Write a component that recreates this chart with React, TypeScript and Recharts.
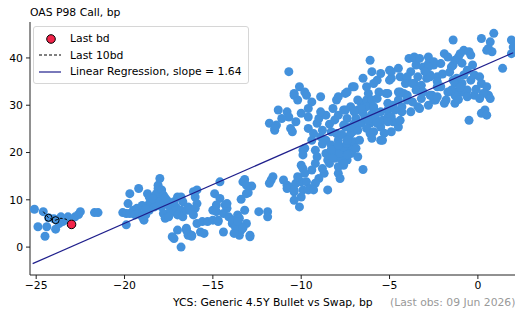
import { ScatterChart, Scatter, XAxis, YAxis } from "recharts"

// history: [YCS spread, OAS P98 call], bp
const history: [number, number][] = [
  [-25.1, 8.0], [-24.9, 4.3], [-24.6, 7.5], [-24.4, 4.3], [-24.5, 2.3], [-24.3, 6.2], [-23.9, 3.8],
  [-23.8, 5.6], [-23.6, 6.4], [-23.5, 5.4], [-23.3, 5.9], [-23.2, 6.4], [-22.8, 6.4], [-22.6, 6.9],
  [-22.5, 7.5], [-21.7, 7.3], [-21.5, 7.3], [-23.7, 5.0], [-24.0, 6.0],
  [-20.1, 7.3], [-19.9, 7.1], [-19.9, 4.7], [-19.7, 11.3], [-19.2, 12.4], [-19.8, 9.2], [-19.7, 7.1],
  [-19.5, 7.8], [-19.3, 8.2], [-19.4, 6.8], [-19.2, 7.1], [-18.9, 5.7], [-19.0, 6.4], [-18.7, 11.3],
  [-18.6, 10.6], [-18.6, 9.2], [-18.4, 9.6], [-18.3, 8.5], [-18.2, 11.3], [-18.1, 12.4], [-18.1, 13.1],
  [-18.0, 14.5], [-18.1, 10.6], [-17.9, 12.1], [-17.8, 11.0], [-17.9, 8.5], [-17.8, 7.1], [-17.7, 6.1],
  [-17.6, 9.9], [-17.5, 8.9], [-17.4, 7.8], [-17.2, 7.5], [-17.1, 8.5], [-17.2, 9.6], [-17.0, 10.6],
  [-16.8, 10.6], [-16.7, 9.6], [-16.8, 7.8], [-17.0, 6.8], [-16.7, 6.4], [-16.5, 7.8], [-16.4, 8.5],
  [-16.3, 7.8], [-16.1, 11.7], [-15.9, 12.1], [-16.0, 10.6], [-15.9, 9.2], [-16.0, 8.2], [-16.1, 6.8],
  [-15.9, 5.0], [-15.6, 5.4], [-15.3, 5.4], [-15.0, 5.7], [-14.9, 11.3], [-15.0, 7.8], [-17.0, 3.6],
  [-17.2, 1.8], [-16.5, 3.6], [-16.4, 2.9], [-16.2, 2.5], [-15.7, 3.2], [-15.5, 2.9], [-16.8, 0.0],
  [-18.6, 7.8], [-18.8, 6.8], [-17.5, 6.4], [-17.3, 2.2], [-16.5, 4.0], [-16.4, 2.5], [-16.2, 2.3],
  [-18.4, 10.2], [-18.0, 9.6], [-17.7, 10.4], [-19.0, 8.8], [-18.8, 8.0],
  [-14.6, 13.8], [-13.3, 13.8], [-13.2, 14.3], [-12.8, 12.9], [-13.0, 11.5], [-13.4, 10.1], [-14.6, 10.3],
  [-14.8, 8.9], [-14.3, 8.9], [-14.2, 8.2], [-14.8, 7.5], [-14.4, 7.1], [-14.1, 6.4], [-14.7, 5.4],
  [-13.9, 5.0], [-13.6, 6.8], [-13.5, 6.1], [-13.2, 7.8], [-13.6, 5.0], [-13.1, 5.0], [-13.7, 4.0],
  [-13.4, 3.6], [-12.9, 2.5], [-13.5, 2.5], [-14.4, 3.2], [-12.4, 7.5], [-11.9, 7.5], [-11.9, 6.4],
  [-14.2, 9.2], [-13.9, 5.7], [-13.7, 4.3], [-13.6, 5.4], [-13.8, 2.9], [-13.3, 4.0], [-12.9, 2.2],
  [-13.1, 11.3], [-13.1, 13.1], [-14.7, 5.7],
  [-11.7, 14.2], [-11.8, 13.5], [-11.6, 14.9], [-11.0, 14.2], [-10.8, 13.1], [-10.5, 12.7], [-10.4, 11.7],
  [-10.3, 13.5], [-10.0, 13.8], [-9.9, 12.1], [-10.1, 8.5], [-10.0, 17.3], [-9.9, 16.6], [-10.8, 12.4],
  [-10.4, 9.9], [-10.0, 10.6], [-10.2, 14.9], [-9.7, 13.8], [-9.5, 12.4], [-9.6, 12.1], [-10.4, 12.1],
  [-9.9, 20.5], [-10.5, 24.4], [-11.5, 24.7], [-10.7, 37.1], [-10.1, 33.9], [-9.8, 32.8], [-10.4, 32.1],
  [-10.2, 31.1], [-9.7, 32.1], [-9.4, 30.7], [-8.9, 31.8], [-10.0, 28.3], [-9.6, 29.3], [-9.6, 27.5],
  [-11.3, 29.0], [-10.8, 28.6], [-10.7, 27.5], [-11.1, 27.2], [-10.3, 26.5], [-10.6, 25.1], [-11.8, 26.2],
  [-11.4, 25.8], [-11.5, 25.1], [-9.6, 25.1], [-9.1, 26.2], [-9.0, 27.2], [-8.6, 27.9], [-8.2, 29.3],
  [-8.0, 31.1], [-7.9, 31.8], [-7.5, 32.5], [-7.4, 32.8], [-7.6, 29.0], [-7.9, 27.9], [-7.2, 29.7],
  [-7.1, 33.9], [-8.8, 24.7], [-8.9, 23.3], [-8.6, 22.6], [-8.3, 24.4], [-8.0, 24.0], [-7.9, 22.6],
  [-7.5, 25.4], [-7.3, 23.3], [-7.1, 24.4], [-9.4, 22.6], [-9.2, 20.5], [-9.8, 20.9], [-9.9, 19.5],
  [-9.1, 19.1], [-8.6, 19.8], [-8.5, 18.4], [-8.1, 18.8], [-7.9, 20.5], [-7.5, 20.1], [-7.7, 18.4],
  [-7.2, 21.2], [-8.3, 21.6], [-10.4, 32.5],
  [-7.9, 15.6], [-7.8, 14.5], [-6.5, 16.4], [-9.4, 16.3], [-9.2, 17.7], [-8.5, 12.1], [-8.7, 15.6],
  [-8.8, 16.6], [-9.0, 14.5], [-9.8, 15.6], [-9.2, 13.5], [-9.3, 12.1], [-8.4, 17.7], [-8.2, 19.1],
  [-8.1, 20.5], [-7.8, 19.8], [-7.6, 21.2], [-7.4, 21.9], [-7.1, 20.5], [-7.0, 22.3], [-7.2, 24.0],
  [-6.8, 24.7], [-6.6, 26.2], [-6.4, 27.5], [-6.9, 27.2], [-6.8, 29.0], [-6.6, 30.4], [-6.3, 31.1],
  [-6.2, 32.5], [-6.0, 31.1], [-6.3, 29.7], [-5.9, 29.3], [-5.8, 27.5], [-6.1, 26.2], [-5.9, 24.4],
  [-5.5, 25.4], [-5.4, 26.8], [-5.1, 27.5], [-4.8, 26.5], [-5.1, 29.0], [-4.8, 30.0], [-4.5, 31.1],
  [-4.5, 32.8], [-5.1, 32.5], [-5.6, 32.8], [-5.9, 34.6], [-5.7, 35.3], [-6.1, 39.5], [-6.0, 37.1],
  [-5.5, 36.7], [-4.9, 35.7], [-5.0, 37.4], [-4.5, 37.8], [-4.4, 36.0], [-4.0, 35.3], [-3.9, 39.9],
  [-3.6, 39.9], [-3.5, 38.5], [-3.8, 37.1], [-3.6, 34.6], [-4.2, 32.5], [-4.0, 31.1], [-4.3, 28.6],
  [-3.8, 28.6], [-3.4, 29.7], [-4.5, 25.4], [-4.9, 24.4], [-5.5, 22.6], [-7.2, 19.8], [-6.8, 19.1],
  [-7.4, 18.4], [-7.6, 17.3], [-7.9, 17.0],
  [-8.4, 26.0], [-8.1, 26.9], [-7.7, 23.8], [-8.3, 20.6], [-7.9, 21.6], [-6.7, 22.6], [-7.0, 26.1],
  [-6.5, 28.4], [-6.0, 28.1], [-5.3, 24.1], [-8.8, 21.8], [-8.9, 28.6], [-9.3, 24.0],
  [-7.0, 33.9], [-6.5, 35.7], [-6.3, 33.9], [-4.9, 37.1], [-5.0, 35.3], [-3.6, 40.2], [-3.3, 39.9],
  [-2.8, 40.2], [-2.8, 38.8], [-2.5, 38.5], [-3.1, 38.1], [-3.4, 36.0], [-4.0, 36.0], [-4.1, 34.6],
  [-3.7, 34.6], [-3.2, 34.2], [-2.9, 35.7], [-2.7, 36.4], [-2.3, 36.0], [-2.3, 33.9], [-2.6, 32.1],
  [-2.5, 31.1], [-3.2, 31.4], [-3.5, 33.2], [-3.3, 29.3], [-3.7, 30.7], [-4.0, 32.1], [-4.4, 32.8],
  [-4.3, 29.7], [-4.7, 29.0], [-5.1, 30.4], [-5.2, 32.5], [-5.7, 31.4], [-5.9, 29.7], [-5.5, 28.6],
  [-4.9, 27.5], [-4.4, 26.8], [-5.1, 26.5], [-5.7, 26.2], [-6.2, 26.8], [-6.6, 29.3], [-6.8, 31.1],
  [-7.0, 28.6], [-7.5, 29.0], [-7.4, 27.2], [-7.6, 25.8], [-7.2, 25.4], [-6.3, 25.1], [-6.1, 24.0],
  [-6.0, 23.0], [-5.4, 22.6], [-7.4, 22.6], [-6.9, 20.9], [-7.4, 19.5], [-7.6, 17.7], [-2.8, 30.0],
  [-1.4, 43.8], [0.2, 44.1], [0.9, 45.2], [0.7, 43.4], [1.9, 43.8], [2.0, 42.3], [0.6, 42.0],
  [0.8, 41.3], [0.5, 41.6], [-0.8, 41.6], [-0.5, 41.3], [-0.4, 40.6], [-1.0, 40.9], [-1.1, 40.2],
  [-1.9, 40.9], [-1.7, 40.2], [-1.3, 39.5], [-2.5, 39.2], [-2.1, 38.8], [-1.4, 38.5], [-1.5, 38.1],
  [-0.3, 38.5], [-0.6, 37.4], [-0.2, 36.4], [-0.8, 36.4], [-1.2, 35.7], [-1.4, 35.3], [-1.3, 34.6],
  [-0.9, 34.6], [-0.4, 35.3], [0.1, 36.0], [0.2, 34.6], [0.5, 33.9], [0.6, 32.1], [0.3, 32.5],
  [-0.2, 32.1], [-0.6, 33.2], [-0.9, 32.8], [-1.2, 32.8], [-0.6, 31.8], [0.1, 31.4], [0.7, 31.4],
  [-1.3, 32.1], [-1.5, 33.2], [-1.7, 32.8], [-1.8, 31.1], [-2.4, 31.1], [-2.7, 32.1], [-1.9, 30.4],
  [-1.3, 30.4], [0.4, 29.0], [0.2, 28.3], [-0.5, 26.8], [0.5, 27.9], [1.4, 37.8], [1.9, 40.9],
  [-2.1, 33.9], [-2.8, 38.1], [-3.0, 37.1], [-2.7, 36.0], [-2.3, 35.0], [-2.3, 31.8],
  [-1.0, 33.8], [-0.1, 33.4], [-2.0, 36.6], [-1.6, 37.0], [-0.9, 38.9], [-3.1, 32.8], [-1.1, 31.2],
]

const lastTenX = [-24.6, -24.3, -24.3, -24.1, -23.9, -23.9, -23.6, -23.3, -23.2, -23.0]
const lastTenY = [7.5, 6.2, 6.2, 5.8, 5.7, 5.7, 6.1, 5.9, 5.4, 4.8]
const ringX = [-24.3, -23.9]
const ringY = [6.2, 5.7]

const lastBdX = [-23.0]
const lastBdY = [4.8]

const regX = [-25.2, 2.0]
const regY = [-3.5, 41.1]

const xTicks = [-25, -20, -15, -10, -5, 0]
const yTicks = [0, 10, 20, 30, 40]

const legendLabels = ["Last bd", "Last 10bd", "Linear Regression, slope = 1.64"]
const yTitle = "OAS P98 Call, bp"
const xTitle = "YCS: Generic 4.5Y Bullet vs Swap, bp"
const lastObs = "(Last obs: 09 Jun 2026)"

const BLUE = "#4391dc"
const RED = "#f2244a"
const NAVY = "#1f1f8c"
const FONT = "'DejaVu Sans', sans-serif"
const FS = 10.8

const zip = (xs: number[], ys: number[]) => xs.map((x, i) => ({ x, y: ys[i] }))

const histData = history.map(([x, y]) => ({ x, y }))
const lastTenData = zip(lastTenX, lastTenY)
const ringData = zip(ringX, ringY)
const lastBdData = zip(lastBdX, lastBdY)
const regData = zip(regX, regY)

const fmt = (v: number) => String(v).replace("-", "\u2212")

const tickStyle = { fontSize: FS, fill: "#000", fontFamily: FONT }

const App = () => {

  return (

    <div style={{ position: "absolute", left: 0, top: 0, width: 515, height: 315, overflow: "hidden", background: "#fff", fontFamily: FONT }}>

      <ScatterChart width={540} height={315} margin={{ top: 22, right: 10, bottom: 0, left: 0 }}>

        <XAxis
          type="number"
          dataKey="x"
          domain={[-25.35, 2.95]}
          allowDataOverflow
          ticks={xTicks}
          tickFormatter={fmt}
          tick={tickStyle}
          tickSize={4}
          tickMargin={2}
          height={40}
          axisLine={{ stroke: "#222" }}
          tickLine={{ stroke: "#222" }}
        />

        <XAxis
          xAxisId="top"
          orientation="top"
          type="number"
          dataKey="x"
          domain={[-25.35, 2.95]}
          allowDataOverflow
          tick={false}
          tickLine={false}
          height={0}
          axisLine={{ stroke: "#333" }}
        />

        <YAxis
          type="number"
          dataKey="y"
          domain={[-5.9, 47.6]}
          allowDataOverflow
          ticks={yTicks}
          tickFormatter={fmt}
          tick={tickStyle}
          tickSize={4}
          tickMargin={3}
          width={30}
          axisLine={{ stroke: "#222" }}
          tickLine={{ stroke: "#222" }}
        />

        <Scatter
          data={histData}
          isAnimationActive={false}
          shape={(p: any) => <circle cx={p.cx} cy={p.cy} r={4.5} fill={BLUE} />}
        />

        <Scatter
          data={regData}
          isAnimationActive={false}
          line={{ stroke: NAVY, strokeWidth: 1.2 }}
          shape={() => <g />}
        />

        <Scatter
          data={lastTenData}
          isAnimationActive={false}
          line={{ stroke: "#000", strokeWidth: 1, strokeDasharray: "3 2" }}
          shape={() => <g />}
        />

        <Scatter
          data={ringData}
          isAnimationActive={false}
          shape={(p: any) => <circle cx={p.cx} cy={p.cy} r={3.5} fill="none" stroke="#000" strokeWidth={1} />}
        />

        <Scatter
          data={lastBdData}
          isAnimationActive={false}
          shape={(p: any) => <circle cx={p.cx} cy={p.cy} r={4.3} fill={RED} stroke="#000" strokeWidth={1} />}
        />

      </ScatterChart>

      <div style={{ position: "absolute", left: 30, top: 6, fontSize: FS, lineHeight: "13px", color: "#000", whiteSpace: "nowrap" }}>
        {yTitle}
      </div>

      <div style={{ position: "absolute", left: 173, top: 296, fontSize: FS, lineHeight: "13px", color: "#000", whiteSpace: "nowrap" }}>
        {xTitle}
      </div>

      <div style={{ position: "absolute", left: 390, top: 296, fontSize: FS, lineHeight: "13px", color: "#999", whiteSpace: "nowrap" }}>
        {lastObs}
      </div>

      <div style={{ position: "absolute", left: 33, top: 26, width: 214, height: 56, border: "1px solid #d6d6d6", borderRadius: 3, background: "rgba(255,255,255,0.85)", fontSize: FS }}>
        <svg width={30} height={56} style={{ position: "absolute", left: 0, top: 0 }}>
          <circle cx={17} cy={12} r={4.3} fill={RED} stroke="#000" strokeWidth={1} />
          <line x1={5} x2={27} y1={28} y2={28} stroke="#000" strokeWidth={1} strokeDasharray="3 2" />
          <line x1={5} x2={27} y1={45} y2={45} stroke={NAVY} strokeWidth={1.2} />
        </svg>
        {legendLabels.map((label, i) => (
          <div key={label} style={{ position: "absolute", left: 36, top: 5 + i * 16.5, lineHeight: "13px", whiteSpace: "nowrap" }}>
            {label}
          </div>
        ))}
      </div>

    </div>

  )

}

export default App
